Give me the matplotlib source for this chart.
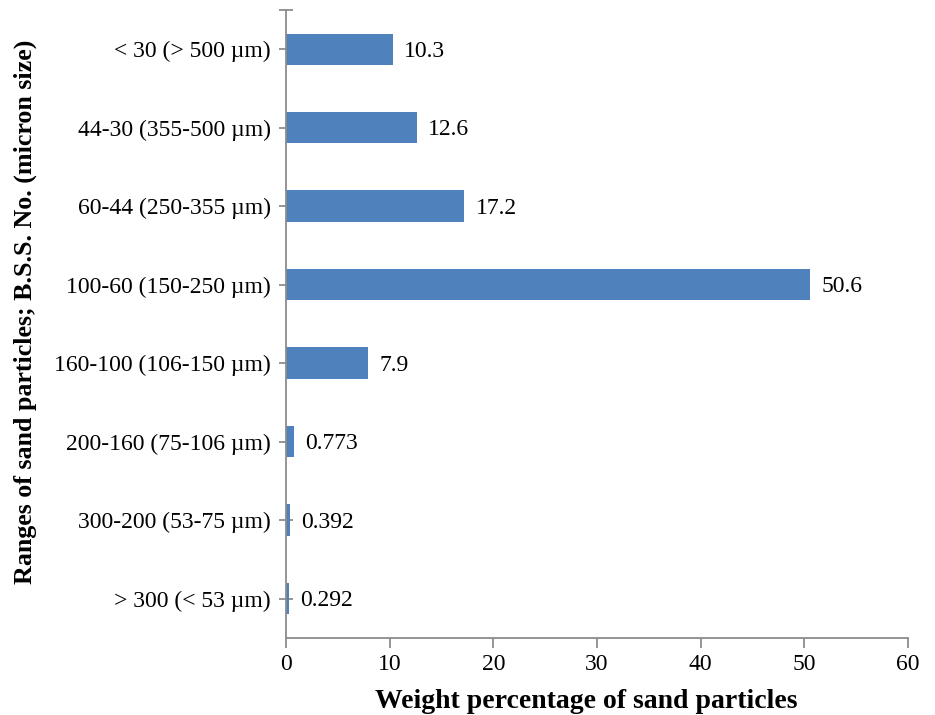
import matplotlib
matplotlib.use("Agg")
from matplotlib import pyplot as plt
import numpy as np

# Datos (de arriba a abajo)
categorias = ["< 30 (> 500 µm)", "44-30 (355-500 µm)", "60-44 (250-355 µm)",
              "100-60 (150-250 µm)", "160-100 (106-150 µm)", "200-160 (75-106 µm)",
              "300-200 (53-75 µm)", "> 300 (< 53 µm)"]
valores = [10.3, 12.6, 17.2, 50.6, 7.9, 0.773, 0.392, 0.292]
etiquetas = ["10.3", "12.6", "17.2", "50.6", "7.9", "0.773", "0.392", "0.292"]
x_ticks = [0, 10, 20, 30, 40, 50, 60]

plt.rcParams['font.family'] = ['Liberation Serif', 'DejaVu Serif']

gris = '#8c8c8c'
azul = '#4f81bd'

fig = plt.figure(figsize=(9.35, 7.15), dpi=100)
ax = fig.add_axes([0.306, 0.108, 0.665, 0.878])

y = np.arange(len(categorias))
ax.barh(y, valores, height=0.4, color=azul, zorder=2)

for yi, v, t in zip(y, valores, etiquetas):
    ax.annotate(t, (v, yi), xytext=(8, -1.5), textcoords='offset points',
                ha='left', va='center', fontsize=17)

ax.set_ylim(len(categorias) - 0.5, -0.5)
ax.set_xlim(0, 60)
ax.set_xticks(x_ticks)
ax.set_yticks(y, labels=categorias)
ax.set_yticks([-0.5], minor=True)

for s in ['top', 'right']:
    ax.spines[s].set_visible(False)
for s in ['left', 'bottom']:
    ax.spines[s].set_color(gris)
    ax.spines[s].set_linewidth(1.3)

ax.tick_params(axis='y', which='both', direction='inout', length=10, width=1.3,
               color=gris, labelsize=17, pad=6)
ax.tick_params(axis='x', direction='out', length=7, width=1.3,
               color=gris, labelsize=17, pad=5)

ax.set_xlabel("Weight percentage of sand particles", fontsize=20,
              fontweight='bold')
ax.set_ylabel("Ranges of sand particles; B.S.S. No. (micron size)", fontsize=18.7,
              fontweight='bold')
ax.xaxis.set_label_coords(0.482, -0.081)
ax.yaxis.set_label_coords(-0.400, 0.519)

fig.savefig("out.png", dpi=100)
